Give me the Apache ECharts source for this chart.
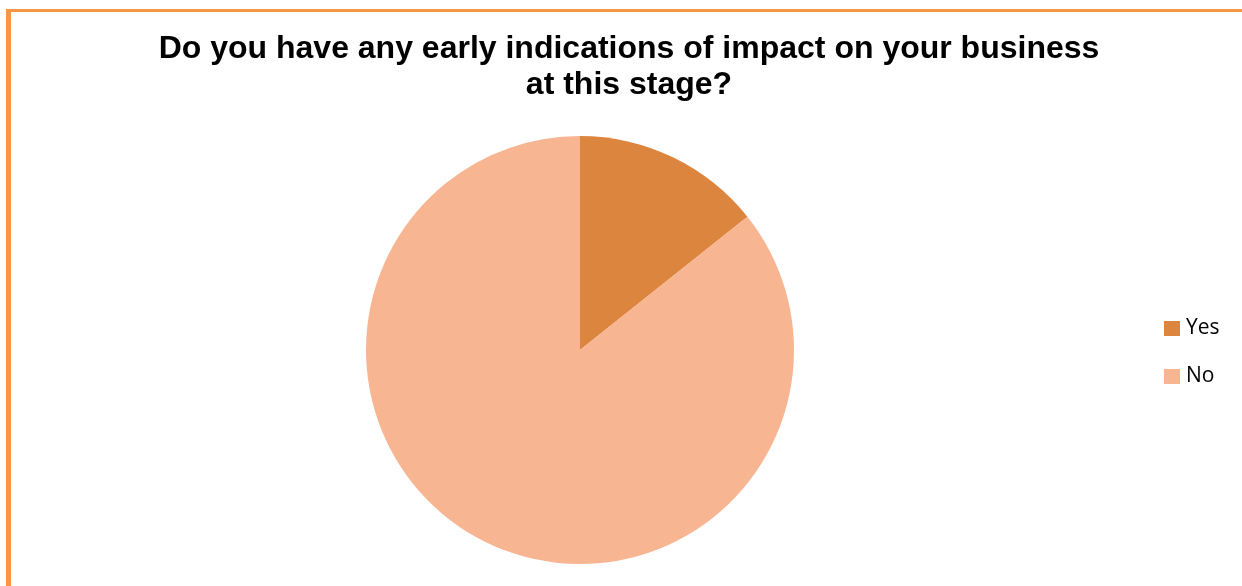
<!DOCTYPE html>
<html><head><meta charset="utf-8">
<script src="https://cdn.jsdelivr.net/npm/echarts@6/dist/echarts.min.js"></script>
<style>html,body{margin:0;padding:0;background:#fff}#c{width:1242px;height:586px}</style>
</head><body><div id="c"></div>
<script>
const categories = ['Yes', 'No'];
const values = [14.3, 85.7];
const colors = ['#DC853F', '#F8B591'];
const titleText = 'Do you have any early indications of impact on your business\nat this stage?';

const chart = echarts.init(document.getElementById('c'));
chart.setOption({
  animation: false,
  color: colors,
  title: {
    text: titleText,
    left: 629, top: 31, textAlign: 'center', padding: 0,
    textStyle: { fontFamily: 'Liberation Sans, Arial, sans-serif', fontWeight: 'bold', fontSize: 32, lineHeight: 36, color: '#000' }
  },
  legend: {
    orient: 'vertical', left: 1159, top: 313, padding: 5,
    itemWidth: 16, itemHeight: 15, itemGap: 27, icon: 'rect',
    textStyle: { fontFamily: 'Open Sans, Liberation Sans, sans-serif', fontSize: 21, color: '#000', padding: [0,0,0,1] },
    data: categories
  },
  graphic: [
    { type: 'rect', shape: { x: 6, y: 9, width: 1236, height: 3 }, style: { fill: '#F79646' } },
    { type: 'rect', shape: { x: 6, y: 9, width: 5, height: 577 }, style: { fill: '#F79646' } }
  ],
  series: [{
    type: 'pie',
    center: [580, 350], radius: 214,
    startAngle: 90, clockwise: true,
    label: { show: false }, labelLine: { show: false },
    itemStyle: { borderWidth: 0 },
    data: categories.map((c, i) => ({ name: c, value: values[i] }))
  }]
});
</script></body></html>
